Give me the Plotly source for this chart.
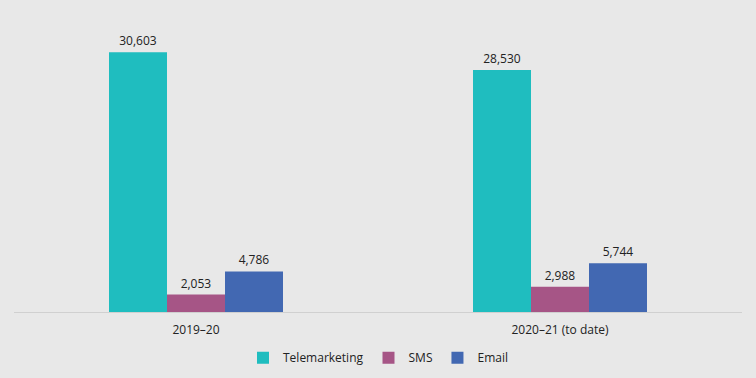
import plotly.graph_objects as go

categories = ["2019–20", "2020–21 (to date)"]
series_names = ["Telemarketing", "SMS", "Email"]
telemarketing = [30603, 28530]
sms = [2053, 2988]
email = [4786, 5744]
colors = ["#1FBDBF", "#A65586", "#4268B2"]

fig = go.Figure()
for name, vals, col in zip(series_names, [telemarketing, sms, email], colors):
    fig.add_trace(go.Bar(
        x=categories, y=vals, name=name, marker_color=col, marker_line_width=0,
        text=[f"{v:,}" for v in vals], textposition="outside",
        textfont=dict(size=12, color="#222222"), cliponaxis=False,
    ))

fig.update_layout(
    width=756, height=378,
    paper_bgcolor="#E8E8E8", plot_bgcolor="#E8E8E8",
    margin=dict(l=14, r=14, t=15, b=66, autoexpand=False),
    barmode="group", bargap=0.522, bargroupgap=0,
    font=dict(family="Open Sans, Liberation Sans, Arial", size=12, color="#222222"),
    showlegend=True,
    legend=dict(orientation="h", x=0.5, xanchor="center", y=-0.105, yanchor="top",
                font=dict(size=12), itemwidth=30, traceorder="normal",
                bgcolor="rgba(0,0,0,0)"),
    xaxis=dict(showline=True, linecolor="#D0D0D0", linewidth=1, ticks="outside",
               ticklen=7, tickcolor="rgba(0,0,0,0)", tickfont=dict(size=12)),
    yaxis=dict(visible=False, range=[0, 35000], showgrid=False),
)
fig.write_html("out.html", config={"displayModeBar": False},
               post_script="document.body.style.margin='0';document.body.style.background='#E8E8E8';")
